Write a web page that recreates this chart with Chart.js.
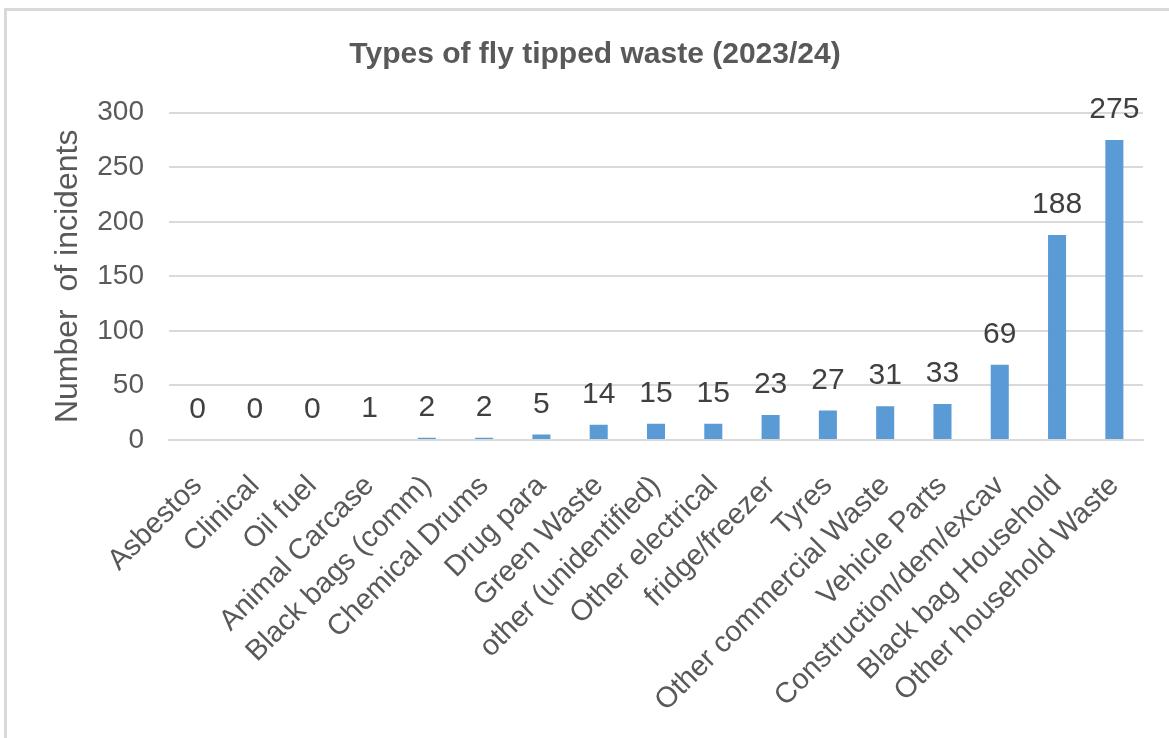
<!DOCTYPE html>
<html>
<head>
<meta charset="utf-8">
<script src="https://cdn.jsdelivr.net/npm/chart.js@4"></script>
<style>
  html, body { margin: 0; padding: 0; background: #fff; overflow: hidden; }
  #frame { position: absolute; left: 4px; top: 8px; width: 1300px; height: 900px; border: 3px solid #d9d9d9; box-sizing: border-box; }
  #wrap { position: absolute; left: 0; top: 0; width: 1169px; height: 738px; }
</style>
</head>
<body>
<div id="frame"></div>
<div id="wrap"><canvas id="c"></canvas></div>
<script>
const categories = ["Asbestos", "Clinical", "Oil fuel", "Animal Carcase", "Black bags (comm)", "Chemical Drums", "Drug para", "Green Waste", "other (unidentified)", "Other electrical", "fridge/freezer", "Tyres", "Other commercial Waste", "Vehicle Parts", "Construction/dem/excav", "Black bag Household", "Other household Waste"];
const incidents = [0, 0, 0, 1, 2, 2, 5, 14, 15, 15, 23, 27, 31, 33, 69, 188, 275];
const yTicks = [0, 50, 100, 150, 200, 250, 300];
const chartTitle = "Types of fly tipped waste (2023/24)";
const yTitle = "Number  of incidents";

const FONT = "'Liberation Sans', Arial, sans-serif";
const GREY = "#595959";

const valueLabels = {
  id: 'valueLabels',
  afterDatasetsDraw(chart) {
    const ctx = chart.ctx;
    const meta = chart.getDatasetMeta(0);
    ctx.save();
    ctx.font = "30px " + FONT;
    ctx.fillStyle = "#404040";
    ctx.textAlign = "center";
    ctx.textBaseline = "alphabetic";
    meta.data.forEach((bar, i) => {
      ctx.fillText(String(chart.data.datasets[0].data[i]), bar.x, bar.y - 22);
    });
    ctx.restore();
  }
};

new Chart(document.getElementById('c'), {
  type: 'bar',
  data: {
    labels: categories,
    datasets: [{
      data: incidents,
      backgroundColor: "#5B9BD5",
      borderWidth: 0,
      barPercentage: 0.315,
      categoryPercentage: 1.0
    }]
  },
  options: {
    responsive: true,
    maintainAspectRatio: false,
    animation: false,
    devicePixelRatio: 1,
    layout: { padding: { left: 47, right: 26, top: 0, bottom: 0 } },
    plugins: {
      legend: { display: false },
      tooltip: { enabled: false },
      title: {
        display: true,
        text: chartTitle,
        color: GREY,
        font: { family: FONT, size: 30, weight: 'bold' },
        padding: { top: 37, bottom: 39.7 }
      }
    },
    scales: {
      x: {
        grid: { display: false, drawTicks: false },
        border: { display: true, color: "#d9d9d9", width: 2 },
        ticks: {
          color: GREY,
          font: { family: FONT, size: 29 },
          maxRotation: 45,
          minRotation: 45,
          autoSkip: false,
          padding: 29
        },
        afterFit(scale) { scale.height = 298; }
      },
      y: {
        min: 0,
        max: 300,
        afterBuildTicks(scale) { scale.ticks = yTicks.map(v => ({ value: v })); },
        grid: { color: "#d9d9d9", lineWidth: 2, drawTicks: false },
        border: { display: false },
        ticks: {
          color: GREY,
          font: { family: FONT, size: 28 },
          padding: 25
        },
        title: {
          display: true,
          text: yTitle,
          color: GREY,
          font: { family: FONT, size: 32 },
          padding: { top: 2, bottom: 0 }
        },
        afterFit(scale) { scale.width = 122; }
      }
    }
  },
  plugins: [valueLabels]
});
</script>
</body>
</html>
